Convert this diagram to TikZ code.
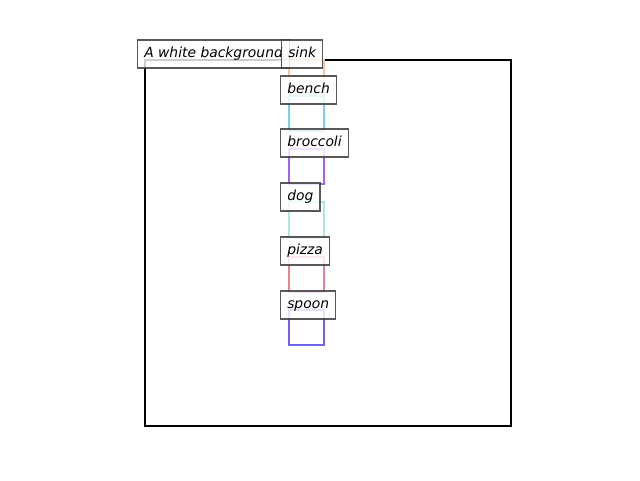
\documentclass[tikz,border=0pt]{standalone}
\usepackage{fontspec}
\newfontfamily\lblfont{DejaVu Sans}
\definecolor{sinkc}{RGB}{244,200,164}
\definecolor{benchc}{RGB}{120,210,225}
\definecolor{broccolic}{RGB}{165,95,245}
\definecolor{dogc}{RGB}{170,235,215}
\definecolor{pizzac}{RGB}{235,130,145}
\definecolor{spoonc}{RGB}{110,100,235}
\definecolor{lbledge}{RGB}{60,60,60}
\begin{document}
\begin{tikzpicture}[x=0.75pt,y=-0.75pt]
\tikzset{
  objbox/.style={draw, line width=1.5pt, anchor=north west, inner sep=0pt, minimum width=26.25pt},
  lbl/.style={draw=lbledge, draw opacity=0.85, fill=white, fill opacity=0.8, text opacity=1,
    line width=0.9pt, anchor=west, inner xsep=5pt, inner ysep=0pt, minimum height=21pt,
    font=\lblfont\itshape\fontsize{10.4}{12}\selectfont, text height=8pt, text depth=2.5pt}
}
\useasboundingbox (0,0) rectangle (640,480);
% frame
\node (frame) [draw, line width=1.5pt, anchor=north west, inner sep=0pt,
  minimum width=274.5pt, minimum height=274.5pt] at (144,59) {};
% object boxes
\node (sinkbox) [objbox, draw=sinkc, minimum height=27pt] at (287.5,59) {};
\node (benchbox) [objbox, draw=benchc, minimum height=26.25pt] at (287.5,95) {};
\node (broccolibox) [objbox, draw=broccolic, minimum height=26.25pt] at (287.5,148) {};
\node (dogbox) [objbox, draw=dogc, minimum height=27pt] at (287.5,201) {};
\node (pizzabox) [objbox, draw=pizzac, minimum height=26.25pt] at (287.5,256) {};
\node (spoonbox) [objbox, draw=spoonc, minimum height=26.25pt] at (287.5,309) {};
% labels
\node (framelbl) [lbl] at (137,54) {A white background};
\node (sinklbl) [lbl] at (281,54) {sink};
\node (benchlbl) [lbl] at (280,90) {bench};
\node (broccolilbl) [lbl] at (280,143) {broccoli};
\node (doglbl) [lbl] at (280,197) {dog};
\node (pizzalbl) [lbl] at (280,251) {pizza};
\node (spoonlbl) [lbl] at (280,305) {spoon};
\end{tikzpicture}
\end{document}
